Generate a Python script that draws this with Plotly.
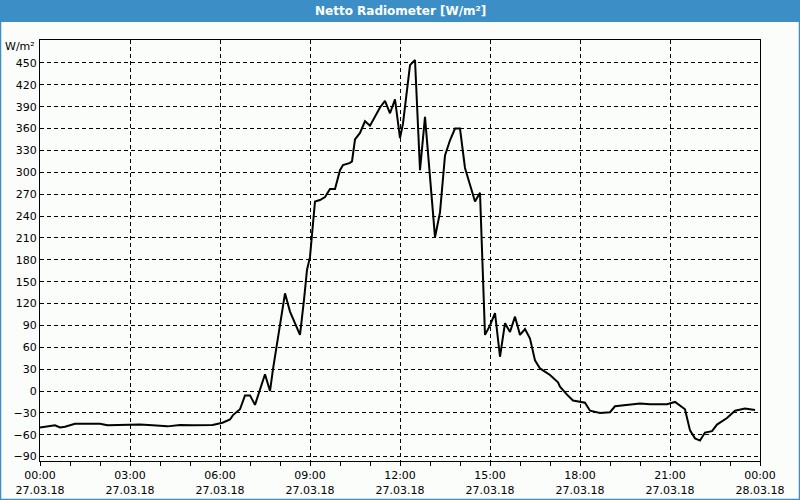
import plotly.graph_objects as go
from datetime import datetime, timedelta

# minutes after 27.03.18 00:00
minutes = [0, 30, 40, 50, 70, 100, 120, 135, 160, 200, 225, 255, 280, 305, 345, 365, 380,
           386, 400, 410, 420, 430, 450, 460, 466, 490, 500, 520, 528, 534, 540, 544, 550,
           560, 570, 580, 590, 600, 606, 620, 624, 630, 640, 650, 660, 680, 690, 700, 710,
           720, 726, 740, 750, 760, 770, 790, 800, 810, 820, 830, 840, 850, 870, 880, 890,
           900, 910, 920, 930, 940, 950, 960, 970, 980, 990, 1000, 1020, 1036, 1040, 1054,
           1066, 1090, 1100, 1120, 1140, 1150, 1174, 1200, 1220, 1254, 1270, 1290, 1300,
           1310, 1320, 1330, 1344, 1354, 1374, 1390, 1410, 1430]
values = [-50, -47, -50, -49, -45, -45, -45, -47, -46.5, -46, -47, -48.5, -46.5, -47, -46.5, -43.5, -39,
          -33, -25, -6, -6, -19, 23, 0, 30, 134, 109, 77, 125, 166, 184, 216, 260,
          262, 266, 277, 277, 303, 310, 313, 315, 345, 354, 370, 364, 389, 398, 381, 400,
          347, 367, 447, 454, 303, 376, 211, 245, 323, 344, 360, 360, 306, 260, 272, 77,
          90, 107, 47, 93, 81, 102, 77, 85, 72, 42, 31, 22, 12, 6, -5,
          -13, -16, -27, -30, -29, -21, -19, -17, -18, -18, -15, -25, -54,
          -65, -68, -57, -55, -46, -37, -27, -24, -26]

tick_hours = [0, 3, 6, 9, 12, 15, 18, 21, 24]
tick_labels = ["00:00<br>27.03.18", "03:00<br>27.03.18", "06:00<br>27.03.18", "09:00<br>27.03.18",
               "12:00<br>27.03.18", "15:00<br>27.03.18", "18:00<br>27.03.18", "21:00<br>27.03.18",
               "00:00<br>28.03.18"]
y_ticks = list(range(-90, 451, 30))

title_text = "Netto Radiometer [W/m²]"
unit_text = "W/m²"

start = datetime(2018, 3, 27)
times = [start + timedelta(minutes=m) for m in minutes]
tickvals = [start + timedelta(hours=h) for h in tick_hours]

BLUE = "#3c8fc6"
BG = "#fbfdfb"
FONT = "Tahoma, DejaVu Sans, sans-serif"

fig = go.Figure()
fig.add_trace(go.Scatter(x=times, y=values, mode="lines",
                         line=dict(color="black", width=2), hoverinfo="skip"))

L, R, T, B = 40, 760, 40, 461
W, H = R - L, B - T
def px(x):
    return (x - L) / W
def py(y):
    return (B - y) / H

fig.update_layout(
    width=800, height=500,
    margin=dict(l=L, r=800 - R, t=T, b=500 - B, autoexpand=False),
    paper_bgcolor=BG, plot_bgcolor=BG,
    showlegend=False,
    font=dict(family=FONT, size=11, color="black"),
    xaxis=dict(
        range=[start, start + timedelta(hours=24)],
        tickmode="array", tickvals=tickvals, ticktext=tick_labels,
        showgrid=True, gridcolor="black", gridwidth=1, griddash="4px,3px",
        showline=True, linecolor="black", linewidth=1, mirror=True,
        ticks="outside", ticklen=4, tickcolor="black",
        minor=dict(dtick=3600000, ticks="outside", ticklen=4, tickcolor="black", showgrid=False),
        tickfont=dict(family=FONT, size=11, color="black"),
        automargin=False,
        zeroline=False, fixedrange=True,
    ),
    yaxis=dict(
        range=[-96, 481.5],
        tickmode="array", tickvals=y_ticks,
        showgrid=True, gridcolor="black", gridwidth=1, griddash="4px,3px",
        showline=True, linecolor="black", linewidth=1, mirror=True,
        ticks="", zeroline=False,
        tickfont=dict(family=FONT, size=11, color="black"),
        automargin=False,
        fixedrange=True,
    ),
    shapes=[
        dict(type="rect", xref="paper", yref="paper",
             x0=px(0), x1=px(800), y0=py(22), y1=py(0),
             fillcolor=BLUE, line=dict(width=0), layer="above"),
        dict(type="rect", xref="paper", yref="paper",
             x0=px(0.5), x1=px(799.5), y0=py(499.5), y1=py(0.5),
             fillcolor="rgba(0,0,0,0)", line=dict(color=BLUE, width=1.5), layer="above"),
    ],
    annotations=[
        dict(text="<b>" + title_text + "</b>", xref="paper", yref="paper",
             x=px(400), y=py(11), xanchor="center", yanchor="middle", showarrow=False,
             font=dict(family=FONT, size=12, color="white")),
        dict(text=unit_text, xref="paper", yref="paper",
             x=px(37), y=py(46), xanchor="right", yanchor="middle", showarrow=False,
             font=dict(family=FONT, size=11, color="black")),
    ],
)

fig.write_html("out.html")
